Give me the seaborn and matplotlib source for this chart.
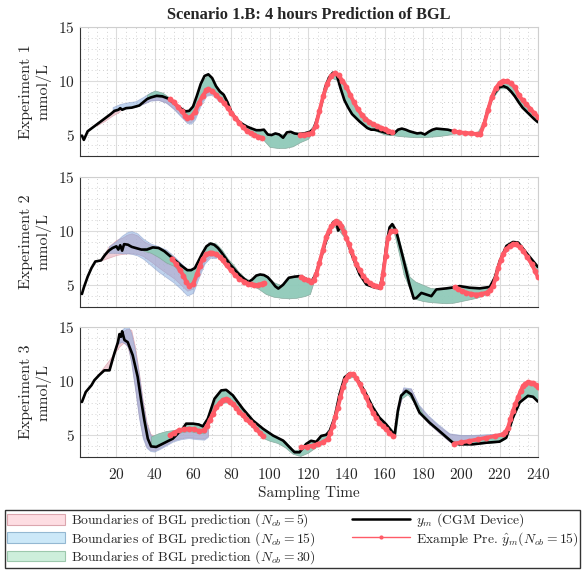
import numpy as np
import pandas as pd
import matplotlib
matplotlib.use('Agg')
import matplotlib.pyplot as plt
import seaborn as sns
from matplotlib.patches import Patch
from matplotlib.lines import Line2D
from matplotlib.ticker import MultipleLocator

nan = np.nan

# ---------------- Experiment 1 ----------------
e1_cgm_x = [2, 3, 5, 8, 11, 14, 17, 19, 21, 22, 23, 25, 28, 30, 32, 34, 36, 38, 41, 44,
            47, 50, 53, 56, 58, 60, 62, 64, 66, 68, 70, 72, 74, 76, 78, 80, 82, 84, 86, 88,
            90, 93, 95, 97, 99, 101, 103, 105, 107, 109, 111, 113, 115, 118, 121, 123, 125, 127, 129, 131,
            133, 135, 137, 139, 141, 143, 145, 147, 149, 151, 153, 155, 157, 160, 163, 165, 167, 169, 171, 173,
            175, 177, 179, 181, 183, 185, 187, 190, 193, 196, 199, 202, 205, 208, 210, 212, 214, 216, 218, 220,
            222, 224, 226, 228, 230, 232, 234, 236, 238, 240]
e1_cgm_y = [4.9, 4.5, 5.3, 5.7, 6.1, 6.5, 6.9, 7.2, 7.3, 7.45, 7.3, 7.45, 7.5, 7.6, 7.7, 8.0, 8.3, 8.45, 8.6, 8.55,
            8.35, 7.9, 7.5, 7.15, 7.2, 7.6, 8.6, 9.7, 10.45, 10.6, 10.25, 9.5, 9.0, 8.7, 8.0, 7.1, 6.6, 6.2, 5.95, 5.75,
            5.6, 5.4, 5.4, 5.45, 5.0, 4.95, 5.1, 5.0, 4.7, 5.2, 5.25, 5.1, 5.05, 5.1, 5.25, 5.5, 6.6, 7.8, 9.4, 10.3,
            10.75, 10.55, 9.3, 8.2, 7.5, 6.9, 6.55, 6.2, 5.9, 5.6, 5.45, 5.45, 5.35, 5.2, 5.05, 5.1, 5.45, 5.55, 5.45, 5.3,
            5.2, 5.1, 5.15, 5.0, 5.25, 5.45, 5.55, 5.5, 5.45, 5.3, 5.2, 5.15, 5.1, 5.05, 5.0, 6.1, 7.4, 8.4, 9.0, 9.4,
            9.5, 9.35, 9.0, 8.55, 8.0, 7.5, 7.15, 6.8, 6.45, 6.15]
e1_pred_x = [48, 50, 52, 54, 56, 57, 59, 61, 63, 65, 67, 68, 70, 72, 74, 76, 78, 80, 82, 84, 86, 88, 90, 92, 94, 96,
             97,
             116, 118, 120, 122, 124, 126, 128, 130, 132, 134, 136, 138, 140, 142, 144, 146, 148, 150, 152, 154, 156,
             158, 160, 162, 164,
             165,
             196, 199, 202, 205, 208, 210, 212, 214, 216, 218, 220, 222, 224, 226, 228, 230, 232, 234, 236, 238, 240]
e1_pred_y = [8.3, 8.0, 7.6, 7.15, 6.75, 6.55, 6.65, 7.1, 7.9, 8.6, 9.1, 9.2, 9.05, 8.7, 8.3, 7.95, 7.5, 7.0, 6.55, 6.1,
             5.7, 5.35, 5.1, 4.92, 4.8, 4.7,
             nan,
             5.0, 5.0, 5.05, 5.15, 5.8, 7.2, 8.6, 9.7, 10.4, 10.75, 10.5, 10.0, 9.45, 8.7, 8.0, 7.35, 6.85, 6.45, 6.15,
             5.95, 5.8, 5.65, 5.5, 5.35, 5.2,
             nan,
             5.3, 5.2, 5.15, 5.1, 5.05, 5.05, 6.0, 7.3, 8.5, 9.3, 9.8, 10.0, 9.95, 9.75, 9.4, 8.65, 8.2, 7.8, 7.4, 7.0,
             6.65]
e1_n5_x = [10, 14, 18, 22, 23, 34, 38, 42, 46, 50, 54, 57, 59, 61, 64, 67, 70]
e1_n5_lo = [5.8, 6.2, 6.7, 7.1, nan, 7.8, 8.15, 8.2, 7.95, 7.4, 6.7, 6.15, 6.1, 6.5, 7.8, 8.65, 8.7]
e1_n5_hi = [6.0, 6.45, 6.95, 7.3, nan, 8.0, 8.4, 8.5, 8.3, 7.9, 7.3, 7.0, 7.1, 7.5, 8.8, 9.3, 9.2]
e1_n15_x = [18, 22, 26, 30, 34, 38, 42, 46, 50, 54, 57, 59, 61, 64, 67, 70, 74]
e1_n15_lo = [7.1, 7.35, 7.45, 7.55, 7.85, 8.15, 8.2, 7.95, 7.35, 6.6, 6.05, 6.0, 6.4, 7.7, 8.6, 8.7, 8.0]
e1_n15_hi = [7.55, 7.85, 8.0, 8.1, 8.5, 8.95, 8.9, 8.6, 8.1, 7.5, 7.2, 7.25, 7.7, 9.0, 9.5, 9.4, 8.6]
e1_n30_x = [36, 40, 44, 48, 52, 56, 58, 60, 64, 68, 72, 76, 80, 84, 88, 92, 96, 100, 104, 108,
            112, 116, 120, 124, 128, 132, 136, 140, 144, 148, 152, 156, 160, 164, 168, 172, 176, 180, 184, 188,
            192, 196, 200, 204, 208, 212, 216, 220, 224, 228, 232, 236, 240]
e1_n30_lo = [8.3, 8.55, 8.5, 8.3, 7.55, 6.75, 6.6, 6.85, 8.2, 9.15, 8.65, 7.9, 7.0, 6.1, 5.35, 4.9, 4.65, 3.85, 3.75, 3.75,
             3.9, 4.3, 4.6, 5.6, 8.4, 10.3, 10.0, 7.8, 6.7, 6.0, 5.5, 5.3, 5.0, 4.95, 4.85, 4.8, 4.75, 4.75, 4.8, 4.85,
             4.95, 5.1, 5.1, 5.05, 5.0, 6.0, 8.3, 9.3, 9.3, 8.5, 7.5, 6.75, 6.1]
e1_n30_hi = [8.7, 9.1, 8.9, 8.4, 7.7, 7.2, 7.25, 7.65, 9.75, 10.65, 9.55, 8.75, 7.15, 6.25, 5.8, 5.5, 5.45, 5.0, 5.05, 5.0,
             5.15, 5.05, 5.2, 6.2, 9.0, 10.7, 10.7, 9.5, 8.1, 7.05, 6.35, 5.95, 5.55, 5.25, 5.55, 5.4, 5.15, 5.1, 5.3, 5.55,
             5.5, 5.35, 5.2, 5.15, 5.1, 6.3, 8.6, 9.85, 10.0, 9.45, 8.25, 7.45, 6.7]

# ---------------- Experiment 2 ----------------
e2_cgm_x = [2, 3, 5, 7, 9, 12, 14, 16, 18, 20, 21, 22, 23, 24, 26, 28, 30, 33, 36, 39,
            42, 45, 48, 51, 54, 57, 59, 61, 63, 65, 67, 69, 71, 73, 75, 77, 79, 81, 83, 85,
            87, 89, 91, 93, 95, 97, 99, 101, 103, 104.5, 107, 110, 113, 116, 119, 122, 124, 127, 130, 133,
            134.8, 135.7, 137.4, 140, 143.5, 147, 150.5, 154, 157.4, 159, 161, 162.6, 164, 166, 169.6, 173, 175.2,
            176.6, 179.2, 181.8, 184.4, 187, 192.3, 197.5, 199.2, 204.4, 209.7, 214.9, 217.5, 220.1, 223.6, 227,
            229.7, 234, 240]
e2_cgm_y = [4.2, 4.8, 5.8, 6.6, 7.2, 7.3, 7.8, 8.2, 8.45, 8.6, 8.3, 8.7, 8.2, 8.8, 8.75, 8.55, 8.45, 8.3, 8.3, 8.5,
            8.45, 8.15, 7.7, 7.25, 6.8, 6.4, 6.4, 6.6, 7.3, 8.0, 8.6, 8.85, 8.75, 8.45, 8.0, 7.5, 7.0, 6.6, 6.2, 5.85,
            5.55, 5.3, 5.55, 5.9, 6.0, 5.95, 5.75, 5.35, 4.9, 4.7, 5.05, 5.7, 5.8, 5.85, 5.6, 5.4, 6.0, 7.7, 9.4, 10.8,
            11.0, 10.05, 10.5, 9.4, 7.55, 6.0, 5.08, 4.85, 4.72, 6.0, 8.8, 10.35, 10.65, 10.05, 7.55, 5.08, 3.78,
            3.84, 4.3, 4.15, 4.0, 4.62, 4.72, 4.85, 4.93, 4.78, 4.72, 4.85, 5.71, 7.25, 8.64, 9.0,
            8.95, 8.0, 6.7]
e2_pred_x = [49, 51, 53, 55, 56.5, 58, 60, 62, 63.5, 65, 67, 68.6, 70, 72, 74, 75.5, 77.5, 79.8, 82, 84.2,
             86.5, 88.6, 90, 92, 94, 96, 97.3,
             98,
             116.5, 118, 120, 121.8, 123, 124.3, 126, 127.8, 129.6, 131, 132.2, 133.5, 134.8, 136, 137.4, 138.7,
             140, 141.3, 142.6, 144, 145.3, 147, 148.7, 150.5, 152.2, 154, 155.7, 157.4, 158.4, 159.1, 160.5,
             161.7, 163.5, 165.2,
             166,
             196.6, 198.5, 200.5, 202.7, 205, 207.9, 210.5, 213.2, 215, 216.6, 218, 219.3, 220.6, 221.9, 223.6,
             225.4, 227, 228.5, 230.5, 232.4, 234.5, 236.8, 238.5, 240]
e2_pred_y = [7.47, 7.0, 6.45, 5.9, 5.31, 4.95, 5.1, 6.0, 6.8, 7.45, 7.85, 8.02, 8.0, 7.9, 7.6, 7.3, 6.85, 6.38, 5.95, 5.6,
             5.35, 5.16, 5.08, 5.0, 5.05, 5.15, 5.22,
             nan,
             5.77, 5.6, 5.45, 5.31, 5.5, 6.0, 7.1, 8.3, 9.5, 10.05, 10.45, 10.75, 10.9, 10.75, 10.45, 9.95,
             9.4, 8.8, 8.2, 7.55, 6.95, 6.4, 5.9, 5.5, 5.2, 5.0, 4.9, 4.85, 5.2, 6.0, 7.7,
             9.4, 10.0, 10.05,
             nan,
             4.85, 4.65, 4.45, 4.33, 4.22, 4.15, 4.2, 4.33, 4.55, 4.93, 5.7, 6.63, 7.3, 7.87, 8.35,
             8.64, 8.78, 8.8, 8.55, 8.18, 7.6, 6.95, 6.35, 5.77]
e2_n5_x = [12, 16, 20, 23, 26, 28, 31, 34, 38, 42, 46, 50, 54, 57, 60, 63, 66, 69, 72]
e2_n5_lo = [7.3, 7.55, 7.8, 7.9, 7.95, 7.95, 7.9, 7.7, 7.2, 6.65, 6.15, 5.65, 5.0, 4.5, 4.7, 6.0, 7.2, 7.7, 7.6]
e2_n5_hi = [7.5, 8.6, 9.2, 9.4, 9.7, 9.8, 9.6, 9.1, 8.7, 8.5, 8.2, 7.6, 6.9, 6.4, 6.5, 7.4, 8.3, 8.8, 8.7]
e2_n15_x = [16, 20, 23, 26, 28, 31, 34, 38, 42, 46, 50, 54, 57, 60, 63, 66, 69, 72]
e2_n15_lo = [8.0, 8.0, 7.95, 7.95, 7.9, 7.75, 7.45, 6.85, 6.25, 5.75, 5.25, 4.6, 4.05, 4.3, 5.7, 7.0, 7.55, 7.5]
e2_n15_hi = [8.6, 9.1, 9.6, 9.95, 10.0, 9.8, 9.3, 8.85, 8.6, 8.3, 7.7, 7.0, 6.5, 6.6, 7.5, 8.4, 8.9, 8.8]
e2_n30_x = [34, 38, 42, 46, 50, 54, 57, 60, 63, 66, 69, 72, 75, 78, 81, 84, 87, 90, 94, 98,
            102, 106, 110, 114, 118, 121, 124, 127, 130, 133, 136, 139, 142, 145, 148, 151, 154, 157, 159, 161,
            163, 165, 167, 170, 173, 176, 180, 184, 188, 192, 196, 200, 204, 208, 212, 215, 218, 221, 224, 227,
            230, 233, 236, 240]
e2_n30_lo = [8.2, 8.0, 7.6, 7.1, 6.8, 6.0, 5.0, 5.0, 6.5, 7.55, 7.95, 7.8, 7.2, 6.6, 6.0, 5.5, 5.25, 5.0, 4.7, 4.2,
             3.95, 3.85, 3.8, 3.85, 4.0, 4.2, 5.9, 7.6, 9.4, 10.5, 10.1, 9.4, 7.9, 6.8, 5.95, 5.05, 4.8, 4.7, 5.9, 8.7,
             9.9, 9.8, 8.3, 6.0, 4.7, 3.75, 3.55, 3.45, 3.4, 3.35, 3.4, 3.55, 3.7, 3.85, 4.1, 4.4, 5.5, 7.6, 8.3, 8.7,
             8.5, 8.0, 6.9, 5.75]
e2_n30_hi = [8.4, 8.6, 8.55, 8.15, 7.55, 6.85, 6.45, 6.5, 7.4, 8.4, 9.0, 8.85, 8.3, 7.5, 6.9, 6.2, 5.7, 5.45, 6.0, 5.95,
             5.3, 5.0, 5.75, 5.85, 5.7, 5.45, 6.1, 8.3, 9.6, 10.9, 11.1, 10.4, 8.4, 7.2, 6.2, 5.4, 5.0, 4.9, 6.1, 9.0,
             10.5, 10.4, 9.6, 7.6, 5.8, 5.35, 5.05, 4.75, 4.7, 4.72, 4.85, 4.95, 4.8, 4.72, 4.75, 4.9, 5.9, 7.9, 8.75, 9.0,
             8.95, 8.3, 7.3, 6.7]

# ---------------- Experiment 3 ----------------
e3_cgm_x = [2, 4, 7, 8.5, 11, 13.7, 16.4, 18, 19, 20.8, 21.6, 22.4, 23, 24.2, 25.9, 28.5, 31.1, 32.9, 34.6, 36.4,
            38.1, 40.8, 44.2, 49.4, 54.6, 56.4, 60, 63, 65.1, 67.7, 71.2, 74.7, 77.3, 80.8, 86, 91.2, 96.6, 101.8,
            107, 110.4, 113, 115.6, 119, 121.6, 124.3, 126.9, 129.5, 131.3, 133.9, 136.5, 139.1, 141.7, 144.3,
            146.9, 150.4, 153.9, 157.3, 160.8, 165.2, 166.9, 168.6, 171.2, 173.8, 178.2, 183.4, 188.6, 195.6, 199,
            206, 213, 220, 223.5, 227, 230.5, 234.8, 237.5, 240]
e3_cgm_y = [8.08, 9.0, 9.63, 10.09, 10.56, 11.0, 11.0, 12.0, 12.6, 13.6, 14.35, 14.1, 14.6, 13.8, 13.6, 12.4, 10.4, 8.24,
            6.39, 4.69, 3.98, 3.93, 4.23, 4.69, 5.62, 6.08, 6.08, 6.0, 5.83, 6.53, 8.38, 9.15, 9.2, 8.69, 7.45, 6.38, 5.6,
            4.98, 4.52, 3.9, 3.44, 3.44, 4.2, 4.5, 4.4, 4.95, 5.05, 5.4, 6.64, 8.8, 10.35, 10.72, 10.5, 9.9, 8.8, 7.57,
            6.64, 6.02, 5.03, 7.26, 8.65, 9.11, 8.8, 7.1, 6.18, 5.4, 4.32, 4.17, 4.17, 4.32, 4.42, 4.78, 6.64, 8.03,
            8.65, 8.56, 8.12]
e3_pred_x = [47.8, 50, 52.9, 55.5, 58.1, 60.7, 63.3, 65.9, 67.3, 68.6, 70.4, 72.1, 73.9, 75.6, 77, 78.2, 79.5, 80.8,
             82.5, 84.2, 86, 87.8, 89.5, 91.2, 93, 94.8, 96.6,
             97,
             116.5, 119.5, 122.5, 125, 127.8, 130.4, 131.7, 133, 134.3, 135.6, 136.9, 138.2, 139.5, 140.8, 142.1,
             143.4, 145.1, 146.9, 148.6, 150.4, 152.1, 153.9, 155.6, 157.3, 159, 160.8, 162.5, 164.3,
             165,
             196.4, 200, 204.3, 208.5, 213, 217.5, 221.8, 223.1, 224.4, 225.7, 227, 228.3, 229.7, 231, 232.3, 233.5,
             234.8, 236.2, 237.5, 238.8, 240]
e3_pred_y = [5.0, 5.25, 5.46, 5.57, 5.62, 5.55, 5.4, 5.46, 5.9, 6.38, 7.0, 7.6, 8.0, 8.28, 8.32, 8.28, 8.1, 7.91,
             7.55, 7.2, 6.84, 6.52, 6.22, 5.93, 5.6, 5.25, 4.91,
             nan,
             3.9, 3.95, 4.05, 4.2, 4.36, 4.67, 5.2, 5.9, 6.7, 7.57, 8.5, 9.42, 10.1, 10.5, 10.65,
             10.66, 10.3, 9.73, 9.1, 8.5, 7.8, 7.1, 6.6, 6.18, 5.85, 5.56, 5.25, 4.95,
             nan,
             4.24, 4.35, 4.48, 4.62, 4.78, 4.93, 5.09, 5.3, 5.71, 6.5, 7.26, 7.9, 8.5, 9.1, 9.57, 9.78,
             9.88, 9.86, 9.79, 9.62, 9.42]
e3_n5_x = [8, 11, 14, 16.4, 18, 20, 22, 24, 26, 28, 30, 32, 34, 36, 38, 40, 43, 46, 50, 54, 58, 62, 66, 68,
           69, 167, 170, 174, 178, 183, 188, 194, 200, 206, 212, 218, 222]
e3_n5_lo = [9.95, 10.56, 11.0, 11.0, 12.0, 12.75, 13.2, 13.5, 13.2, 11.8, 9.4, 6.8, 4.9, 3.9, 3.6, 3.55, 3.8, 4.1,
            4.5, 4.7, 4.8, 4.7, 4.65, 4.9,
            nan, 7.0, 8.9, 8.8, 7.1, 6.1, 5.3, 4.4, 4.2, 4.3, 4.5, 4.7, 4.9]
e3_n5_hi = [10.0, 10.65, 11.35, 11.9, 12.3, 13.3, 14.2, 14.6, 14.8, 14.7, 13.1, 10.8, 8.2, 6.2, 5.1, 4.9, 5.0, 5.1,
            5.3, 5.5, 5.6, 5.6, 5.5, 5.8,
            nan, 7.5, 9.3, 9.25, 7.7, 6.7, 5.9, 5.1, 4.95, 4.95, 5.0, 5.05, 5.15]
e3_n15_x = [21, 23, 25, 26.5, 28, 30, 32, 34, 36, 38, 40, 43, 46, 50, 54, 58, 62, 66, 68,
            69, 167, 170, 174, 178, 183, 188, 194, 200, 206, 212, 218, 222]
e3_n15_lo = [13.4, 13.6, 13.4, 13.0, 11.6, 9.2, 6.6, 4.7, 3.8, 3.5, 3.45, 3.7, 4.0, 4.4, 4.6, 4.7, 4.6, 4.55, 4.8,
             nan, 7.0, 8.9, 8.8, 7.1, 6.1, 5.3, 4.4, 4.2, 4.3, 4.5, 4.7, 4.9]
e3_n15_hi = [14.0, 14.7, 15.0, 15.0, 14.4, 12.8, 10.6, 8.0, 6.0, 5.0, 4.8, 4.9, 5.0, 5.2, 5.4, 5.6, 5.6, 5.5, 5.8,
             nan, 7.6, 9.4, 9.3, 7.8, 6.8, 6.0, 5.15, 5.0, 5.0, 5.05, 5.1, 5.2]
e3_n30_x = [38, 42, 46, 50, 54, 58, 62, 66, 69, 72, 75, 78, 81, 84, 88, 92, 96, 100, 104, 108,
            112, 116, 120, 124, 128, 132, 135, 138, 141, 144, 147, 150, 154, 158, 162, 165.5, 168, 172, 176, 180,
            185, 190, 196, 202, 208, 214, 220, 223, 226, 229, 232, 235, 238, 240]
e3_n30_lo = [4.0, 4.0, 4.4, 5.1, 5.3, 5.4, 5.25, 5.2, 6.3, 7.4, 8.0, 8.05, 7.7, 7.0, 6.3, 5.6, 4.8, 4.5, 4.3, 3.9,
             3.3, 3.1, 3.4, 3.9, 4.25, 5.1, 7.1, 9.1, 10.3, 10.4, 9.6, 8.4, 6.95, 6.0, 5.3, 4.8, 8.3, 8.8, 7.9, 6.8,
             5.9, 5.1, 4.3, 4.2, 4.2, 4.3, 4.4, 4.7, 6.0, 7.8, 8.3, 8.6, 8.45, 8.1]
e3_n30_hi = [4.9, 5.2, 5.4, 5.5, 5.7, 6.1, 6.15, 5.9, 7.0, 8.5, 9.2, 9.2, 8.6, 7.95, 7.1, 6.25, 5.7, 5.2, 4.8, 4.5,
             3.7, 3.6, 4.3, 4.5, 5.0, 5.7, 7.8, 9.6, 10.7, 10.75, 9.9, 9.0, 7.6, 6.5, 5.9, 5.2, 8.8, 9.3, 8.2, 7.0,
             6.0, 5.2, 4.45, 4.45, 4.6, 4.8, 4.95, 5.2, 6.4, 8.5, 9.6, 9.9, 9.75, 9.4]

x_ticks = [20, 40, 60, 80, 100, 120, 140, 160, 180, 200, 220, 240]
y_ticks = [5, 10, 15]
panel_labels = ['Experiment 1\nmmol/L', 'Experiment 2\nmmol/L', 'Experiment 3\nmmol/L']
legend_labels = [r'Boundaries of BGL prediction ($N_{ob}=5$)',
                 r'Boundaries of BGL prediction ($N_{ob}=15$)',
                 r'Boundaries of BGL prediction ($N_{ob}=30$)',
                 r'$y_m$ (CGM Device)',
                 r'Example Pre. $\hat{y}_m(N_{ob}=15)$']

PINK, BLUE, GREEN = '#e9b9c4', '#7fa6dc', '#8fcab9'
RED = '#ff5b67'

sns.set_theme(style='white')
plt.rcParams['font.family'] = ['cmr10', 'DejaVu Serif']
plt.rcParams['mathtext.fontset'] = 'cm'
plt.rcParams['axes.formatter.use_mathtext'] = True
plt.rcParams['axes.unicode_minus'] = False

fig = plt.figure(figsize=(5.84, 5.70), dpi=100)
boxes = [[0.137, 0.7263, 0.784, 0.2263],
         [0.137, 0.4614, 0.784, 0.2281],
         [0.137, 0.1982, 0.784, 0.2281]]

panels = [
    (e1_cgm_x, e1_cgm_y, e1_pred_x, e1_pred_y, (e1_n5_x, e1_n5_lo, e1_n5_hi),
     (e1_n15_x, e1_n15_lo, e1_n15_hi), (e1_n30_x, e1_n30_lo, e1_n30_hi)),
    (e2_cgm_x, e2_cgm_y, e2_pred_x, e2_pred_y, (e2_n5_x, e2_n5_lo, e2_n5_hi),
     (e2_n15_x, e2_n15_lo, e2_n15_hi), (e2_n30_x, e2_n30_lo, e2_n30_hi)),
    (e3_cgm_x, e3_cgm_y, e3_pred_x, e3_pred_y, (e3_n5_x, e3_n5_lo, e3_n5_hi),
     (e3_n15_x, e3_n15_lo, e3_n15_hi), (e3_n30_x, e3_n30_lo, e3_n30_hi)),
]

for i, (cx, cy, px, py, n5, n15, n30) in enumerate(panels):
    ax = fig.add_axes(boxes[i])

    # bands (pink + blue overlap gives the lavender tone)
    ax.fill_between(n5[0], n5[1], n5[2], facecolor=PINK, alpha=0.7, edgecolor='#d99aa6', linewidth=0.5)
    ax.fill_between(n15[0], n15[1], n15[2], facecolor=BLUE, alpha=0.5, edgecolor='#7d8fc0', linewidth=0.5)
    ax.fill_between(n30[0], n30[1], n30[2], facecolor=GREEN, alpha=0.95, edgecolor='#86a89c', linewidth=0.5)

    cgm = pd.DataFrame({'t': cx, 'g': cy})
    sns.lineplot(data=cgm, x='t', y='g', color='black', linewidth=1.9, sort=False,
                 estimator=None, ax=ax, legend=False, zorder=4)

    pred = pd.DataFrame({'t': px, 'g': py})
    pred['seg'] = pred['g'].isna().cumsum()
    pred = pred.dropna()
    sns.lineplot(data=pred, x='t', y='g', units='seg', estimator=None, sort=False, color=RED,
                 linewidth=2.8, marker='o', markersize=4.2, markeredgewidth=0, ax=ax,
                 legend=False, zorder=5)

    ax.set_xlim(1, 240)
    ax.set_ylim(3, 15)
    ax.set_xticks(x_ticks)
    ax.set_yticks(y_ticks)
    ax.xaxis.set_minor_locator(MultipleLocator(5))
    ax.yaxis.set_minor_locator(MultipleLocator(1))
    ax.grid(which='major', color='#dcdcdc', linewidth=0.8)
    ax.grid(which='minor', color='#c4c4c4', linewidth=0.6, linestyle=(0, (1, 3.5)))
    ax.set_axisbelow(True)
    ax.tick_params(which='major', direction='in', length=3.5, width=0.7, color='#333333',
                   labelsize=11, pad=4)
    ax.tick_params(axis='x', which='major', pad=7)
    ax.tick_params(which='minor', length=0)
    for s in ['left', 'bottom']:
        ax.spines[s].set_color('#333333')
        ax.spines[s].set_linewidth(0.8)
    for s in ['top', 'right']:
        ax.spines[s].set_color('#cfcfcf')
        ax.spines[s].set_linewidth(0.8)

    ax.set_ylabel(panel_labels[i], fontsize=11.5, linespacing=1.25)
    ax.yaxis.set_label_coords(-0.062, 0.5)
    if i < 2:
        ax.set_xlabel('')
        ax.set_xticklabels([])
    else:
        ax.set_xlabel('Sampling Time', fontsize=11, labelpad=3)

fig.text(0.529, 0.973, 'Scenario 1.B: 4 hours Prediction of BGL', ha='center', va='center',
         fontsize=11.8, fontweight='bold', family='Liberation Serif')

handles = [Patch(facecolor='#fddde2', edgecolor='#dba6ae', linewidth=0.8),
           Patch(facecolor='#cce8f8', edgecolor='#94b8d2', linewidth=0.8),
           Patch(facecolor='#cdeedb', edgecolor='#9cc8ac', linewidth=0.8),
           Line2D([], [], color='black', linewidth=1.8),
           Line2D([], [], color=RED, linewidth=1.0, marker='o', markersize=3, markeredgewidth=0)]
fig.legend(handles, legend_labels, ncol=2, loc='lower left',
           bbox_to_anchor=(0.009, 0.004, 0.984, 0.1), mode='expand',
           fontsize=9.8, frameon=True, fancybox=False, edgecolor='#333333', framealpha=1,
           handlelength=4.3, handleheight=0.85, handletextpad=0.4, labelspacing=0.04,
           columnspacing=1.2, numpoints=1, borderpad=0.12, borderaxespad=0)

fig.savefig('out.png', dpi=100)
